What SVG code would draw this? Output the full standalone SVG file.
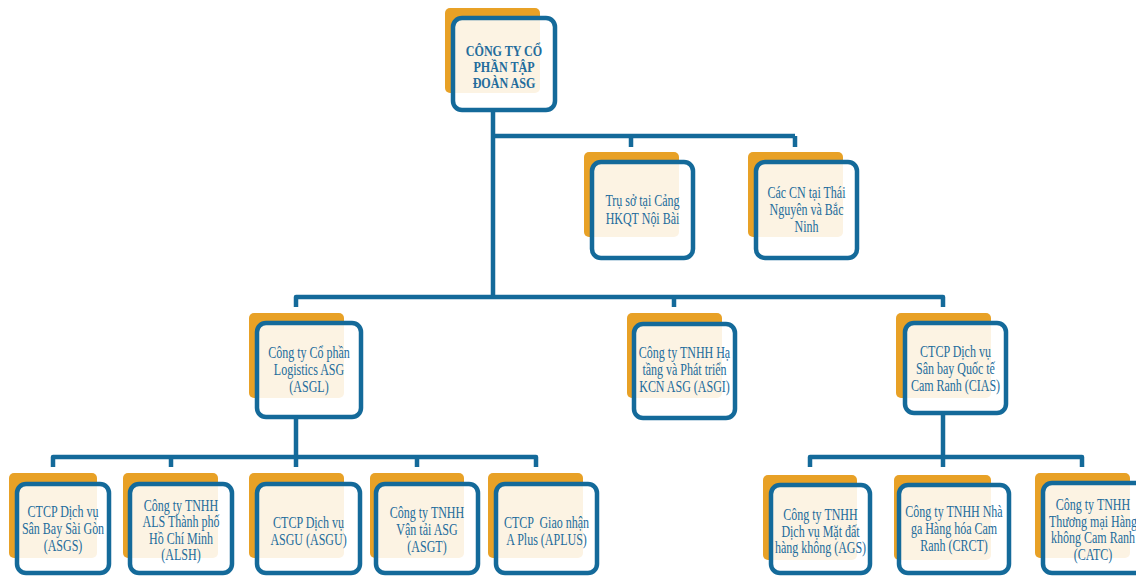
<svg xmlns="http://www.w3.org/2000/svg" width="1136" height="576" viewBox="0 0 1136 576">
<style>
.o{fill:#E8A126}
.b{fill:#ffffff;fill-opacity:0.87;stroke:#146a9a;stroke-width:4.5}
.t{font-family:"Liberation Serif","Times New Roman",serif;font-size:16px;fill:#236c9c;text-anchor:middle}
.tb{font-weight:bold;font-size:15.5px}
.c{fill:none;stroke:#146a9a;stroke-width:4.5;stroke-linejoin:round}
</style>
<rect width="1136" height="576" fill="#ffffff"/>
<g id="connectors">
<path class="c" d="M493,110 V297"/>
<path class="c" d="M493,136 H795"/>
<path class="c" d="M631,136 V147 M795,136 V147"/>
<path class="c" d="M296,307 V297 H943 V307 M674,297 V307"/>
<path class="c" d="M296,417 V457"/>
<path class="c" d="M53,467 V457 H536 V467 M171,457 V467 M296,457 V467 M417,457 V467"/>
<path class="c" d="M943,413 V457"/>
<path class="c" d="M810,467 V457 H1082 V467 M943,457 V467"/>
</g>
<g id="asg">
<rect class="o" x="445" y="8" width="95" height="85" rx="5"/>
<rect class="b" x="453" y="18" width="102" height="92" rx="9"/>
<text class="t tb" transform="translate(504 0) scale(0.78 1)"><tspan x="0" y="56">CÔNG TY CỔ</tspan><tspan x="0" y="72">PHẦN TẬP</tspan><tspan x="0" y="88">ĐOÀN ASG</tspan></text>
</g>
<g id="noibai">
<rect class="o" x="584" y="152" width="95" height="85" rx="5"/>
<rect class="b" x="592" y="162" width="101" height="96" rx="9"/>
<text class="t" transform="translate(642.5 0) scale(0.75 1)"><tspan x="0" y="206">Trụ sở tại Cảng</tspan><tspan x="0" y="224">HKQT Nội Bài</tspan></text>
</g>
<g id="thainguyen">
<rect class="o" x="748" y="152" width="95" height="85" rx="5"/>
<rect class="b" x="756" y="162" width="101" height="96" rx="9"/>
<text class="t" transform="translate(806.5 0) scale(0.75 1)"><tspan x="0" y="198">Các CN tại Thái</tspan><tspan x="0" y="215">Nguyên và Bắc</tspan><tspan x="0" y="232">Ninh</tspan></text>
</g>
<g id="asgl">
<rect class="o" x="249" y="313" width="95" height="85" rx="5"/>
<rect class="b" x="257" y="323" width="104" height="94" rx="9"/>
<text class="t" transform="translate(309 0) scale(0.75 1)"><tspan x="0" y="358">Công ty Cổ phần</tspan><tspan x="0" y="375">Logistics ASG</tspan><tspan x="0" y="392">(ASGL)</tspan></text>
</g>
<g id="asgi">
<rect class="o" x="627" y="313" width="95" height="85" rx="5"/>
<rect class="b" x="634" y="324" width="101" height="94" rx="9"/>
<text class="t" transform="translate(684.5 0) scale(0.75 1)"><tspan x="0" y="358">Công ty TNHH Hạ</tspan><tspan x="0" y="375">tầng và Phát triển</tspan><tspan x="0" y="392">KCN ASG (ASGI)</tspan></text>
</g>
<g id="cias">
<rect class="o" x="896" y="313" width="95" height="85" rx="5"/>
<rect class="b" x="905" y="323" width="101" height="90" rx="9"/>
<text class="t" transform="translate(955.5 0) scale(0.75 1)"><tspan x="0" y="357">CTCP Dịch vụ</tspan><tspan x="0" y="374">Sân bay Quốc tế</tspan><tspan x="0" y="391">Cam Ranh (CIAS)</tspan></text>
</g>
<g id="asgs">
<rect class="o" x="9" y="473" width="88" height="85" rx="5"/>
<rect class="b" x="17" y="484" width="92" height="89" rx="9"/>
<text class="t" transform="translate(63 0) scale(0.75 1)"><tspan x="0" y="517">CTCP Dịch vụ</tspan><tspan x="0" y="534">Sân Bay Sài Gòn</tspan><tspan x="0" y="551">(ASGS)</tspan></text>
</g>
<g id="alsh">
<rect class="o" x="123" y="473" width="95" height="85" rx="5"/>
<rect class="b" x="130" y="484" width="102" height="89" rx="9"/>
<text class="t" transform="translate(181 0) scale(0.75 1)"><tspan x="0" y="511">Công ty TNHH</tspan><tspan x="0" y="527">ALS Thành phố</tspan><tspan x="0" y="544">Hồ Chí Minh</tspan><tspan x="0" y="560">(ALSH)</tspan></text>
</g>
<g id="asgu">
<rect class="o" x="249" y="473" width="95" height="85" rx="5"/>
<rect class="b" x="257" y="484" width="103" height="89" rx="9"/>
<text class="t" transform="translate(308.5 0) scale(0.75 1)"><tspan x="0" y="528">CTCP Dịch vụ</tspan><tspan x="0" y="545">ASGU (ASGU)</tspan></text>
</g>
<g id="asgt">
<rect class="o" x="370" y="473" width="94" height="85" rx="5"/>
<rect class="b" x="376" y="484" width="102" height="89" rx="9"/>
<text class="t" transform="translate(427 0) scale(0.75 1)"><tspan x="0" y="518">Công ty TNHH</tspan><tspan x="0" y="535">Vận tải ASG</tspan><tspan x="0" y="552">(ASGT)</tspan></text>
</g>
<g id="aplus">
<rect class="o" x="488" y="473" width="95" height="85" rx="5"/>
<rect class="b" x="496" y="484" width="101" height="89" rx="9"/>
<text class="t" transform="translate(546.5 0) scale(0.75 1)" xml:space="preserve"><tspan x="0" y="528">CTCP  Giao nhận</tspan><tspan x="0" y="545">A Plus (APLUS)</tspan></text>
</g>
<g id="ags">
<rect class="o" x="763" y="475" width="94" height="85" rx="5"/>
<rect class="b" x="771" y="485" width="99" height="88" rx="9"/>
<text class="t" transform="translate(820.5 0) scale(0.75 1)"><tspan x="0" y="520">Công ty TNHH</tspan><tspan x="0" y="537">Dịch vụ Mặt đất</tspan><tspan x="0" y="553">hàng không (AGS)</tspan></text>
</g>
<g id="crct">
<rect class="o" x="894" y="475" width="97" height="85" rx="5"/>
<rect class="b" x="899" y="485" width="110" height="88" rx="9"/>
<text class="t" transform="translate(954 0) scale(0.75 1)"><tspan x="0" y="517">Công ty TNHH Nhà</tspan><tspan x="0" y="534">ga Hàng hóa Cam</tspan><tspan x="0" y="551">Ranh (CRCT)</tspan></text>
</g>
<g id="catc">
<rect class="o" x="1035" y="473" width="95" height="85" rx="5"/>
<rect class="b" x="1043" y="483" width="102" height="90" rx="9"/>
<text class="t" transform="translate(1093 0) scale(0.75 1)"><tspan x="0" y="510">Công ty TNHH</tspan><tspan x="0" y="527">Thương mại Hàng</tspan><tspan x="0" y="543">không Cam Ranh</tspan><tspan x="0" y="560">(CATC)</tspan></text>
</g>
</svg>
